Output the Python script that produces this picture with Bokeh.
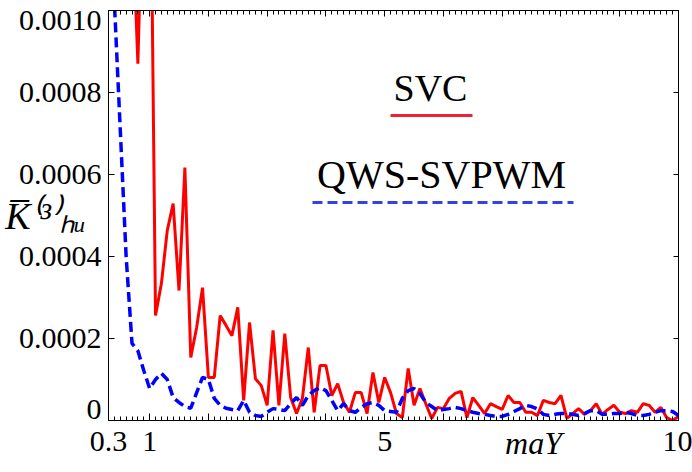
from bokeh.plotting import figure
from bokeh.models import Range1d, LinearAxis, FixedTicker, Label
from bokeh.embed import file_html
from bokeh.resources import INLINE

# ---------------- data ----------------
m_aY = [0.3, 0.4, 0.5, 0.6, 0.7, 0.8, 0.9, 1.0, 1.1, 1.2, 1.3, 1.4, 1.5, 1.6, 1.7, 1.8, 1.9,
        2.0, 2.1, 2.2, 2.3, 2.4, 2.5, 2.6, 2.7, 2.8, 2.9, 3.0, 3.1, 3.2, 3.3, 3.4, 3.5, 3.6,
        3.7, 3.8, 3.9, 4.0, 4.1, 4.2, 4.3, 4.4, 4.5, 4.6, 4.7, 4.8, 4.9, 5.0, 5.1, 5.2, 5.3,
        5.4, 5.5, 5.6, 5.7, 5.8, 5.9, 6.0, 6.1, 6.2, 6.3, 6.4, 6.5, 6.6, 6.7, 6.8, 6.9, 7.0,
        7.1, 7.2, 7.3, 7.4, 7.5, 7.6, 7.7, 7.8, 7.9, 8.0, 8.1, 8.2, 8.3, 8.4, 8.5, 8.6, 8.7,
        8.8, 8.9, 9.0, 9.1, 9.2, 9.3, 9.4, 9.5, 9.6, 9.7, 9.8, 9.9, 10.0]

svc = [0.0030, 0.0026, 0.0022, 0.0018, 0.00125, 0.00087, 0.00140, 0.00160,
       0.000256, 0.000334, 0.000463, 0.000529, 0.000317, 0.000617, 0.000154, 0.000227,
       0.000324, 0.000105, 0.000105, 0.000256, 0.000232, 0.000207, 0.000276, 0.000049,
       0.000239, 0.000102, 0.000085, 0.000037, 0.000220, 0.000037, 0.000212, 0.000056,
       0.000017, 0.000054, 0.000178, 0.000020, 0.000134, 0.000134, 0.000061, 0.000090,
       0.000044, 0.000020, 0.000068, 0.000068, 0.000017, 0.000117, 0.000044, 0.000105,
       0.000068, 0.000017, 0.000007, 0.000127, 0.000037, 0.000078, 0.000041, 0.000005,
       0.000032, 0.000029, 0.000054, 0.000066, 0.000071, 0.000007, 0.000056, 0.000037,
       0.000017, 0.000041, 0.000034, 0.000027, 0.000061, 0.000044, 0.000044, 0.000020,
       0.000020, 0.000012, 0.000049, 0.000044, 0.000041, 0.000061, 0.000005, 0.000017,
       0.000029, 0.000015, 0.000024, 0.000041, 0.000015, 0.000027, 0.000037, 0.000020,
       0.000017, 0.000024, 0.000020, 0.000041, 0.000037, 0.000020, 0.000032, 0.000007,
       0.000000, 0.000010]

qws_svpwm = [0.00130, 0.00102, 0.00071, 0.00040, 0.000188, 0.000170, 0.000122, 0.000078,
             0.000100, 0.000115, 0.000100, 0.000056, 0.000044, 0.000034, 0.000030, 0.000068,
             0.000105, 0.000100, 0.000054, 0.000037, 0.000030, 0.000027, 0.000024, 0.000049,
             0.000020, 0.000012, 0.000010, 0.000020, 0.000029, 0.000027, 0.000024, 0.000041,
             0.000056, 0.000037, 0.000061, 0.000073, 0.000080, 0.000073, 0.000049, 0.000024,
             0.000041, 0.000024, 0.000020, 0.000032, 0.000041, 0.000044, 0.000037, 0.000024,
             0.000022, 0.000020, 0.000054, 0.000073, 0.000078, 0.000066, 0.000044, 0.000034,
             0.000024, 0.000027, 0.000029, 0.000032, 0.000029, 0.000024, 0.000020, 0.000017,
             0.000015, 0.000012, 0.000010, 0.000010, 0.000015, 0.000022, 0.000029, 0.000037,
             0.000034, 0.000028, 0.000015, 0.000012, 0.000015, 0.000017, 0.000017, 0.000015,
             0.000012, 0.000017, 0.000024, 0.000024, 0.000015, 0.000015, 0.000017, 0.000017,
             0.000020, 0.000017, 0.000012, 0.000012, 0.000015, 0.000020, 0.000024, 0.000024,
             0.000022, 0.000012]

x_major_ticks = [0.3, 1, 2, 3, 4, 5, 6, 7, 8, 9, 10]
x_tick_labels = {0.3: "0.3", 1: "1", 5: "5", 10: "10"}
y_ticks = [0, 0.0002, 0.0004, 0.0006, 0.0008, 0.0010]
y_tick_labels = ["0", "0.0002", "0.0004", "0.0006", "0.0008", "0.0010"]
series_names = ["SVC", "QWS-SVPWM"]
x_title = "maY"
y_title = "K\u0305\u207d\u00b3\u207e\u2095\u1d64"

# ---------------- layout helpers (reference pixel -> data) ----------------
W, H = 692, 472
X0, X1, Y0, Y1 = 0.3, 10.0, 0.0, 0.0010
FL, FR, FT, FB = 108, 678, 10, 420      # frame edges in picture pixels
MID = 0.34                               # text middle above baseline (em)


def dx(px):
    return X0 + (px - FL) * (X1 - X0) / (FR - FL)


def dy(py):
    return Y0 + (FB - py) * (Y1 - Y0) / (FB - FT)


SERIF = "Liberation Serif"
RED = "#ff0000"
BLUE = "#0000ff"

p = figure(width=W, height=H, x_range=Range1d(X0, X1), y_range=Range1d(Y0, Y1),
           output_backend="svg", toolbar_location=None,
           x_axis_type=None, y_axis_type=None,
           min_border_left=FL, min_border_right=W - FR,
           min_border_top=FT, min_border_bottom=H - FB)
p.grid.visible = False
p.outline_line_color = "black"
p.outline_line_width = 1
p.background_fill_color = "white"
p.border_fill_color = "white"

x_ticker = FixedTicker(ticks=x_major_ticks, minor_ticks=m_aY)
y_ticker = FixedTicker(ticks=y_ticks, minor_ticks=[])


def style(ax, size="30px", fstyle="normal"):
    ax.axis_line_color = "black"
    ax.axis_line_width = 1
    ax.major_tick_line_color = "black"
    ax.minor_tick_line_color = "black"
    ax.major_label_text_font = SERIF
    ax.major_label_text_font_size = size
    ax.major_label_text_font_style = fstyle
    ax.major_label_text_color = "black"
    ax.axis_label_text_font = SERIF
    ax.axis_label_text_color = "black"


# bottom axis: ticks, tick labels and the axis title
x_over = {t: x_tick_labels.get(t, "") for t in x_major_ticks}
xb = LinearAxis(ticker=x_ticker, major_label_overrides=x_over)
style(xb)
xb.major_tick_in, xb.major_tick_out = 7, 0
xb.minor_tick_in, xb.minor_tick_out = 4, 0
xb.major_label_standoff = 11
nb = "\u00a0" * 35                       # pushes the centred title to the right
xb.axis_label = nb + x_title
xb.axis_label_text_font_size = "32px"
xb.axis_label_text_font_style = "italic"
xb.axis_label_standoff = -29
p.add_layout(xb, "below")

# top axis: ticks only
xt = LinearAxis(ticker=x_ticker)
style(xt, "0px")
xt.major_tick_in, xt.major_tick_out = 6, 0
xt.minor_tick_in, xt.minor_tick_out = 4, 0
xt.major_label_standoff = 0
p.add_layout(xt, "above")

# left: tick marks (nearest the frame)
yl = LinearAxis(ticker=y_ticker)
style(yl, "0px")
yl.major_tick_in, yl.major_tick_out = 6, 0
yl.minor_tick_line_color = None
yl.major_label_standoff = 0
p.add_layout(yl, "left")

# left: tick labels (edge labels nudged inside, as in the reference) + title
y_label_pos = [dy(409), 0.0002, 0.0004, 0.0006, 0.0008, dy(FT + 10)]
yll = LinearAxis(ticker=FixedTicker(ticks=y_label_pos, minor_ticks=[]),
                 major_label_overrides={t: l for t, l in zip(y_label_pos, y_tick_labels)})
style(yll)
yll.axis_line_color = None
yll.major_tick_line_color = None
yll.minor_tick_line_color = None
yll.major_tick_in = yll.major_tick_out = 0
yll.minor_tick_in = yll.minor_tick_out = 0
yll.major_label_standoff = 7
yll.axis_label = y_title
yll.axis_label_orientation = "horizontal"
yll.axis_label_text_font_size = "38px"
yll.axis_label_text_font_style = "italic"
yll.axis_label_standoff = -70
p.add_layout(yll, "left")

# right axis: ticks only
yr = LinearAxis(ticker=y_ticker)
style(yr, "0px")
yr.major_tick_in, yr.major_tick_out = 5, 0
yr.minor_tick_line_color = None
yr.major_label_standoff = 0
p.add_layout(yr, "right")

# ---------------- curves ----------------
p.line(m_aY, svc, line_color=RED, line_width=3)
p.line(m_aY, qws_svpwm, line_color=BLUE, line_width=3.5, line_dash="10 5")

# ---------------- legend (custom, text above sample line) ----------------
p.line([dx(390), dx(472)], [dy(115), dy(115)], line_color="#ee2233", line_width=3)
p.line([dx(312), dx(573)], [dy(202), dy(202)], line_color="#3344dd", line_width=3,
       line_dash="10 5")


def lab(text, px, py, size, align="left"):
    """Place text inside the frame by its baseline position (px, py)."""
    fs = float(size.replace("px", ""))
    p.add_layout(Label(x=px - FL, y=FB - py + MID * fs,
                       x_units="screen", y_units="screen", text=text,
                       text_font=SERIF, text_font_size=size, text_align=align,
                       text_baseline="alphabetic", text_color="black"))


lab(series_names[0], 430, 100, "38px", align="center")
lab(series_names[1], 441, 188, "40px", align="center")

open("out.html", "w").write(file_html(p, INLINE))
